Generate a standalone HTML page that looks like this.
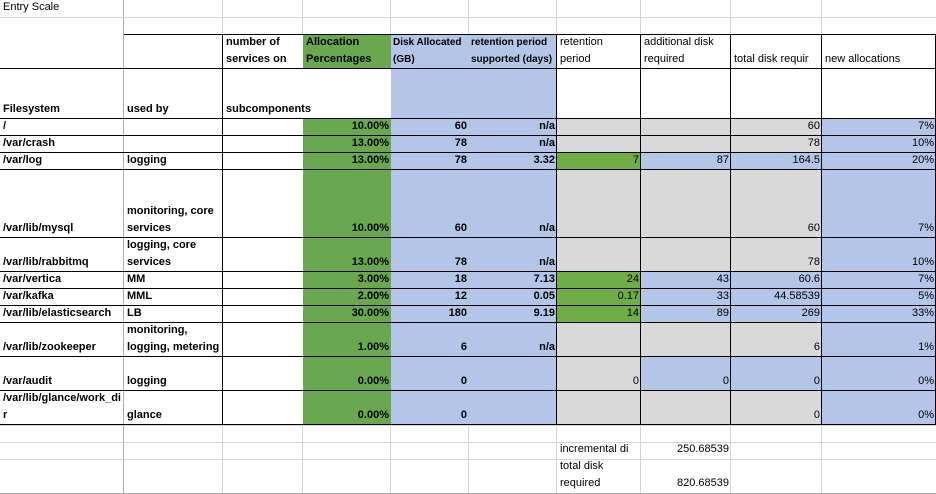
<!DOCTYPE html>
<html><head><meta charset="utf-8">
<style>
html,body{margin:0;padding:0;background:#fff;}
#sheet{position:relative;width:936px;height:494px;overflow:hidden;font-family:"Liberation Sans",Arial,sans-serif;font-size:11px;color:#000;}
.c{position:absolute;box-sizing:border-box;overflow:hidden;display:flex;flex-direction:column;justify-content:flex-end;padding:0 2px 1px 3px;line-height:17px;white-space:nowrap;}
.r{align-items:flex-end;}
.b{font-weight:bold;}
.ov{overflow:visible;}
.sm{font-size:10px;padding-left:2px;}
.ln{position:absolute;}
</style></head>
<body>
<div id="sheet"></div>
<script>
const colsX=[0,124,223,303,391,469,557,641,731,822,936];
const rowsY=[0,17,34,69,119,136,153,170,238,272,289,306,323,357,391,425,442,459,493];
const filesystems=["/","/var/crash","/var/log","/var/lib/mysql","/var/lib/rabbitmq","/var/vertica","/var/kafka","/var/lib/elasticsearch","/var/lib/zookeeper","/var/audit","/var/lib/glance/work_di<br>r"];
const usedBy=["","","logging","monitoring, core<br>services","logging, core<br>services","MM","MML","LB","monitoring,<br>logging, metering","logging","glance"];
const allocPct=["10.00%","13.00%","13.00%","10.00%","13.00%","3.00%","2.00%","30.00%","1.00%","0.00%","0.00%"];
const diskAlloc=["60","78","78","60","78","18","12","180","6","0","0"];
const retSupported=["n/a","n/a","3.32","n/a","n/a","7.13","0.05","9.19","n/a","",""];
const retPeriod=["","","7","","","24","0.17","14","","0",""];
const addDisk=["","","87","","","43","33","89","","0",""];
const totalDisk=["60","78","164.5","60","78","60.6","44.58539","269","6","0","0"];
const newAlloc=["7%","10%","20%","7%","10%","7%","5%","33%","1%","0%","0%"];
const fillG=["g","g","G","g","g","G","G","G","g","g","g"];
const fillH=["g","g","B","g","g","B","B","B","g","B","g"];
const fillI=["g","g","B","g","g","B","B","B","g","B","g"];
const colors={G:"#70ad47",D:"#6aa84f",B:"#b4c6e7",g:"#d9d9d9",w:""};
const sheet=document.getElementById('sheet');
function cell(ci,ri,ci2,ri2,html,opts,name){
  const d=document.createElement('div');
  d.className='c'+(opts.r?' r':'')+(opts.b?' b':'')+(opts.ov?' ov':'')+(opts.sm?' sm':'');
  d.style.left=colsX[ci]+'px';d.style.top=rowsY[ri]+'px';
  d.style.width=(colsX[ci2]-colsX[ci])+'px';d.style.height=(rowsY[ri2]-rowsY[ri])+'px';
  if(opts.bg)d.style.background=colors[opts.bg];
  d.innerHTML=html?'<span>'+html+'</span>':'';
  
  
  sheet.appendChild(d);
}
function line(x,y,w,h,col,name){
  const l=document.createElement('div');l.className='ln';
  l.style.left=x+'px';l.style.top=y+'px';l.style.width=w+'px';l.style.height=h+'px';l.style.background=col;
  
  
  sheet.appendChild(l);
}
cell(0,0,1,1,"Entry Scale",{},"title-cell");
cell(2,2,3,3,"number of<br>services on",{b:1},"header-services");
cell(3,2,4,3,"Allocation<br>Percentages",{b:1,bg:"D"},"header-allocation");
cell(4,2,5,3,"Disk Allocated<br>(GB)",{b:1,bg:"B",sm:1},"header-disk-allocated");
cell(5,2,6,3,"retention period<br>supported (days)",{b:1,bg:"B",sm:1},"header-retention-supported");
cell(6,2,7,3,"retention<br>period",{},"header-retention-period");
cell(7,2,8,3,"additional disk<br>required",{},"header-additional-disk");
cell(8,2,9,3,"total disk requir",{},"header-total-disk");
cell(9,2,10,3,"new allocations",{},"header-new-allocations");
cell(0,3,1,4,"Filesystem",{b:1},"header-filesystem");
cell(1,3,2,4,"used by",{b:1},"header-used-by");
cell(4,3,5,4,"",{bg:"B"},"header-disk-blank");
cell(5,3,6,4,"",{bg:"B"},"header-ret-blank");
cell(2,3,3,4,"subcomponents",{b:1,ov:1},"header-subcomponents");
for(let i=0;i<filesystems.length;i++){
  const r=4+i;
  cell(0,r,1,r+1,filesystems[i],{b:1},"filesystem-"+i);
  cell(1,r,2,r+1,usedBy[i],{b:1},"used-by-"+i);
  cell(3,r,4,r+1,allocPct[i],{b:1,r:1,bg:"D"},"allocation-pct-"+i);
  cell(4,r,5,r+1,diskAlloc[i],{b:1,r:1,bg:"B"},"disk-allocated-"+i);
  cell(5,r,6,r+1,retSupported[i],{b:1,r:1,bg:"B"},"retention-supported-"+i);
  cell(6,r,7,r+1,retPeriod[i],{r:1,bg:fillG[i]},"retention-period-"+i);
  cell(7,r,8,r+1,addDisk[i],{r:1,bg:fillH[i]},"additional-disk-"+i);
  cell(8,r,9,r+1,totalDisk[i],{r:1,bg:fillI[i]},"total-disk-"+i);
  cell(9,r,10,r+1,newAlloc[i],{r:1,bg:"B"},"new-allocation-"+i);
}
cell(6,16,7,17,"incremental di",{},"incremental-label");
cell(7,16,8,17,"250.68539",{r:1},"incremental-value");
cell(6,17,7,18,"total disk<br>required",{},"total-required-label");
cell(7,17,8,18,"820.68539",{r:1},"total-required-value");
for(let j=1;j<colsX.length-1;j++){
  const x=colsX[j]-1;
  line(x,0,1,34,"#d4d4d4","grid-v");
  line(x,425,1,69,"#d4d4d4","grid-v");
}
line(123,0,1,494,"#ababab","grid-v-a");
for(const y of [17,425,442,459]) line(0,y,936,1,"#d4d4d4","grid-h");
line(0,493,936,1,"#ababab","grid-h-bottom");
for(let k=2;k<=15;k++){ line(k===2?124:0,rowsY[k]-(k===2?0:1),936,1,"#000","border-h"); }
for(const x of [223,557,641,731,822]) line(x-1,34,1,391,"#000","border-v");
line(935,34,1,391,"#000","border-v-right");
</script>
</body></html>
